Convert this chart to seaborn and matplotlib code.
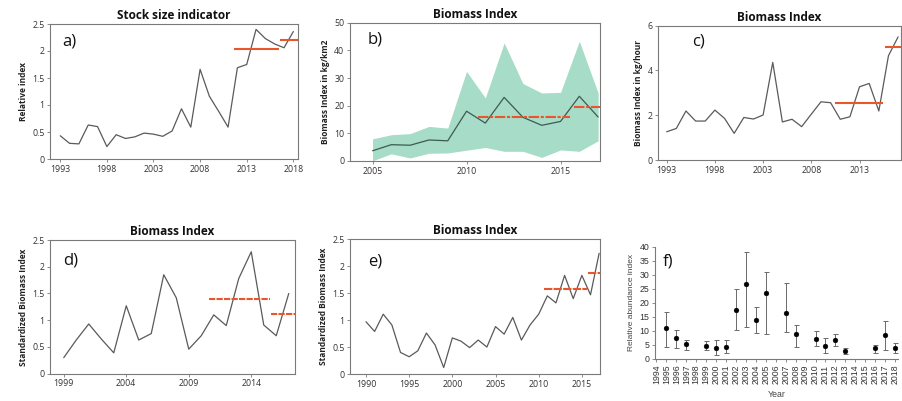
import matplotlib
matplotlib.use("Agg")
import matplotlib.pyplot as plt
import seaborn as sns
import numpy as np
from matplotlib.ticker import FuncFormatter

sns.set_theme(style="white")
plt.rcParams['font.family'] = ['Open Sans', 'DejaVu Sans']

# ---------------- data ----------------
years_a = list(range(1993, 2019))
vals_a = [0.43, 0.29, 0.28, 0.63, 0.60, 0.23, 0.45, 0.38, 0.41, 0.48, 0.46, 0.42,
          0.52, 0.93, 0.59, 1.66, 1.16, 0.88, 0.59, 1.69, 1.75, 2.40, 2.23, 2.13,
          2.06, 2.36]
ref_a = [(2011.6, 2016.5, 2.04), (2016.6, 2018.6, 2.21)]

years_b = list(range(2005, 2018))
vals_b = [3.7, 5.9, 5.7, 7.6, 7.3, 18.0, 13.7, 23.0, 15.8, 12.9, 14.3, 23.4, 15.9]
upper_b = [8.0, 9.5, 9.9, 12.5, 11.9, 32.4, 22.8, 42.7, 28.0, 24.6, 24.8, 43.3, 24.6]
lower_b = [0.1, 2.6, 1.1, 2.8, 2.9, 3.9, 4.9, 3.5, 3.5, 1.3, 4.0, 3.5, 7.3]
ref_b = [(2010.6, 2015.5, 15.9), (2015.7, 2017.5, 19.6)]

years_c = list(range(1993, 2018))
vals_c = [1.26, 1.41, 2.19, 1.74, 1.74, 2.23, 1.86, 1.19, 1.90, 1.83, 2.01, 4.36,
          1.70, 1.82, 1.49, 2.05, 2.60, 2.56, 1.82, 1.93, 3.27, 3.42, 2.19, 4.66, 5.50]
ref_c = [(2010.5, 2015.4, 2.53), (2015.6, 2017.5, 5.06)]

years_d = list(range(1999, 2018))
vals_d = [0.30, 0.63, 0.93, 0.65, 0.39, 1.27, 0.63, 0.75, 1.85, 1.42, 0.46, 0.71,
          1.10, 0.90, 1.78, 2.28, 0.91, 0.71, 1.50]
ref_d = [(2010.6, 2015.5, 1.40), (2015.6, 2017.5, 1.11)]

years_e = list(range(1990, 2018))
vals_e = [0.97, 0.79, 1.11, 0.91, 0.40, 0.32, 0.43, 0.76, 0.54, 0.12, 0.67, 0.61,
          0.49, 0.63, 0.50, 0.88, 0.74, 1.05, 0.63, 0.91, 1.11, 1.45, 1.32, 1.83,
          1.40, 1.83, 1.47, 2.24]
ref_e = [(2010.65, 2015.55, 1.57), (2015.7, 2017.5, 1.87)]

years_f = [1995, 1996, 1997, 1999, 2000, 2001, 2002, 2003, 2004, 2005, 2007, 2008,
           2010, 2011, 2012, 2013, 2016, 2017, 2018]
vals_f = [10.9, 7.4, 5.3, 4.6, 4.0, 4.2, 17.3, 26.8, 13.9, 23.4, 16.4, 8.9,
          7.1, 4.7, 6.8, 3.0, 4.0, 8.5, 3.9]
hi_f = [16.8, 10.3, 6.8, 6.4, 6.8, 6.6, 24.9, 38.0, 18.4, 31.1, 27.2, 12.0,
        10.0, 7.6, 8.9, 3.9, 4.9, 13.5, 5.8]
lo_f = [4.4, 3.8, 3.2, 3.2, 1.4, 2.0, 10.3, 11.3, 9.1, 8.9, 9.7, 4.2,
        4.6, 2.3, 4.6, 1.8, 2.3, 3.3, 2.0]
ticks_f = list(range(1994, 2019))

# ---------------- layout ----------------
W, H = 902, 401
fig = plt.figure(figsize=(W / 100, H / 100), dpi=100)
fig.patch.set_facecolor("white")


def add_ax(l, r, t, b):
    return fig.add_axes([l / W, 1 - b / H, (r - l) / W, (b - t) / H])


LINE = "#5a5a5a"
RED = "#e8562c"
SPINE = "#7a7a7a"
TXT = "#333333"
fmt = FuncFormatter(lambda v, p: f"{v:g}")


def style(ax, title, ylabel, label, lx, ly, box=True):
    ax.set_facecolor("white")
    for s in ax.spines.values():
        s.set_color(SPINE)
        s.set_linewidth(0.8)
        s.set_visible(box)
    ax.spines['left'].set_visible(True)
    ax.spines['bottom'].set_visible(True)
    ax.tick_params(axis='both', which='major', direction='out', length=2.5,
                   width=0.6, color=SPINE, labelsize=6.3, labelcolor=TXT, pad=1.5,
                   left=True, bottom=True)
    ax.yaxis.set_major_formatter(fmt)
    ax.grid(False)
    if title:
        ax.set_title(title, fontsize=8.5, fontweight='bold', color='#111111', pad=3.5)
    ax.set_ylabel(ylabel, fontsize=6, fontweight='bold', color='#222222', labelpad=3)
    ax.set_xlabel("")
    ax.text(lx, ly, label, transform=ax.transAxes, fontsize=12, ha='left',
            va='center', color='#111111')


def refs(ax, segs, ls):
    for x0, x1, y in segs:
        ax.hlines(y, x0, x1, colors=RED, linewidth=1.5, linestyles=ls)


# a)
ax = add_ax(50, 298, 24, 159)
sns.lineplot(x=years_a, y=vals_a, ax=ax, color=LINE, linewidth=0.9)
refs(ax, ref_a, 'solid')
ax.set_xlim(1991.9, 2018.5)
ax.set_ylim(0, 2.5)
ax.set_xticks(range(1993, 2019, 5))
ax.set_yticks([0, 0.5, 1, 1.5, 2, 2.5])
style(ax, "Stock size indicator", "Relative index", "a)", 0.05, 0.87)

# b)
ax = add_ax(350, 600, 22.7, 161)
ax.fill_between(years_b, lower_b, upper_b, color="#a6dcc8", linewidth=0)
sns.lineplot(x=years_b, y=vals_b, ax=ax, color="#3d5a52", linewidth=0.9)
refs(ax, ref_b, (0, (5, 0.8, 1.5, 0.8)))
ax.set_xlim(2003.8, 2017.1)
ax.set_ylim(0, 50)
ax.set_xticks([2005, 2010, 2015])
ax.set_yticks(range(0, 51, 10))
style(ax, "Biomass Index", "Biomass Index in kg/km2", "b)", 0.07, 0.875)

# c)
ax = add_ax(658, 901, 25.7, 160)
sns.lineplot(x=years_c, y=vals_c, ax=ax, color=LINE, linewidth=0.9)
refs(ax, ref_c, 'solid')
ax.set_xlim(1992.1, 2017.3)
ax.set_ylim(0, 6)
ax.set_xticks(range(1993, 2014, 5))
ax.set_yticks([0, 2, 4, 6])
style(ax, "Biomass Index", "Biomass Index in kg/hour", "c)", 0.14, 0.88)

# d)
ax = add_ax(50, 295, 240, 373.7)
sns.lineplot(x=years_d, y=vals_d, ax=ax, color=LINE, linewidth=0.9)
refs(ax, ref_d, (0, (3, 0.6)))
ax.set_xlim(1997.9, 2017.5)
ax.set_ylim(0, 2.5)
ax.set_xticks([1999, 2004, 2009, 2014])
ax.set_yticks([0, 0.5, 1, 1.5, 2, 2.5])
style(ax, "Biomass Index", "Standardized Biomass Index", "d)", 0.053, 0.85)

# e)
ax = add_ax(350, 600, 239.3, 374)
sns.lineplot(x=years_e, y=vals_e, ax=ax, color=LINE, linewidth=0.9)
refs(ax, ref_e, (0, (4, 0.6)))
ax.set_xlim(1988.15, 2017.1)
ax.set_ylim(0, 2.5)
ax.set_xticks(range(1990, 2016, 5))
ax.set_yticks([0, 0.5, 1, 1.5, 2, 2.5])
style(ax, "Biomass Index", "Standardized Biomass Index", "e)", 0.072, 0.834)

# f)
ax = add_ax(655, 898, 246.7, 359)
yf = np.array(vals_f)
ax.errorbar(years_f, yf, yerr=[yf - np.array(lo_f), np.array(hi_f) - yf],
            fmt='none', ecolor='#6a6a6a', elinewidth=0.7, capsize=1.8, capthick=0.7)
sns.scatterplot(x=years_f, y=vals_f, ax=ax, color='black', s=12, marker='o',
                edgecolor='black', linewidth=0.3, zorder=3)
ax.set_xlim(1993.85, 2018.3)
ax.set_ylim(0, 40)
ax.set_xticks(ticks_f)
ax.set_xticklabels([str(t) for t in ticks_f], rotation=90)
ax.set_yticks(range(0, 41, 5))
style(ax, None, "Relative abundance index", "f)", 0.033, 0.87, box=False)
ax.set_ylabel("Relative abundance index", fontsize=6, fontweight='normal',
              color='#444444', labelpad=3, family=['Liberation Sans', 'DejaVu Sans'])
for lab in ax.get_xticklabels() + ax.get_yticklabels():
    lab.set_family(['Liberation Sans', 'DejaVu Sans'])
    lab.set_fontsize(6.3)
ax.set_xlabel("Year", fontsize=6.3, color='#444444', labelpad=4,
              family=['Liberation Sans', 'DejaVu Sans'])

fig.savefig("out.png", dpi=100, facecolor="white")
